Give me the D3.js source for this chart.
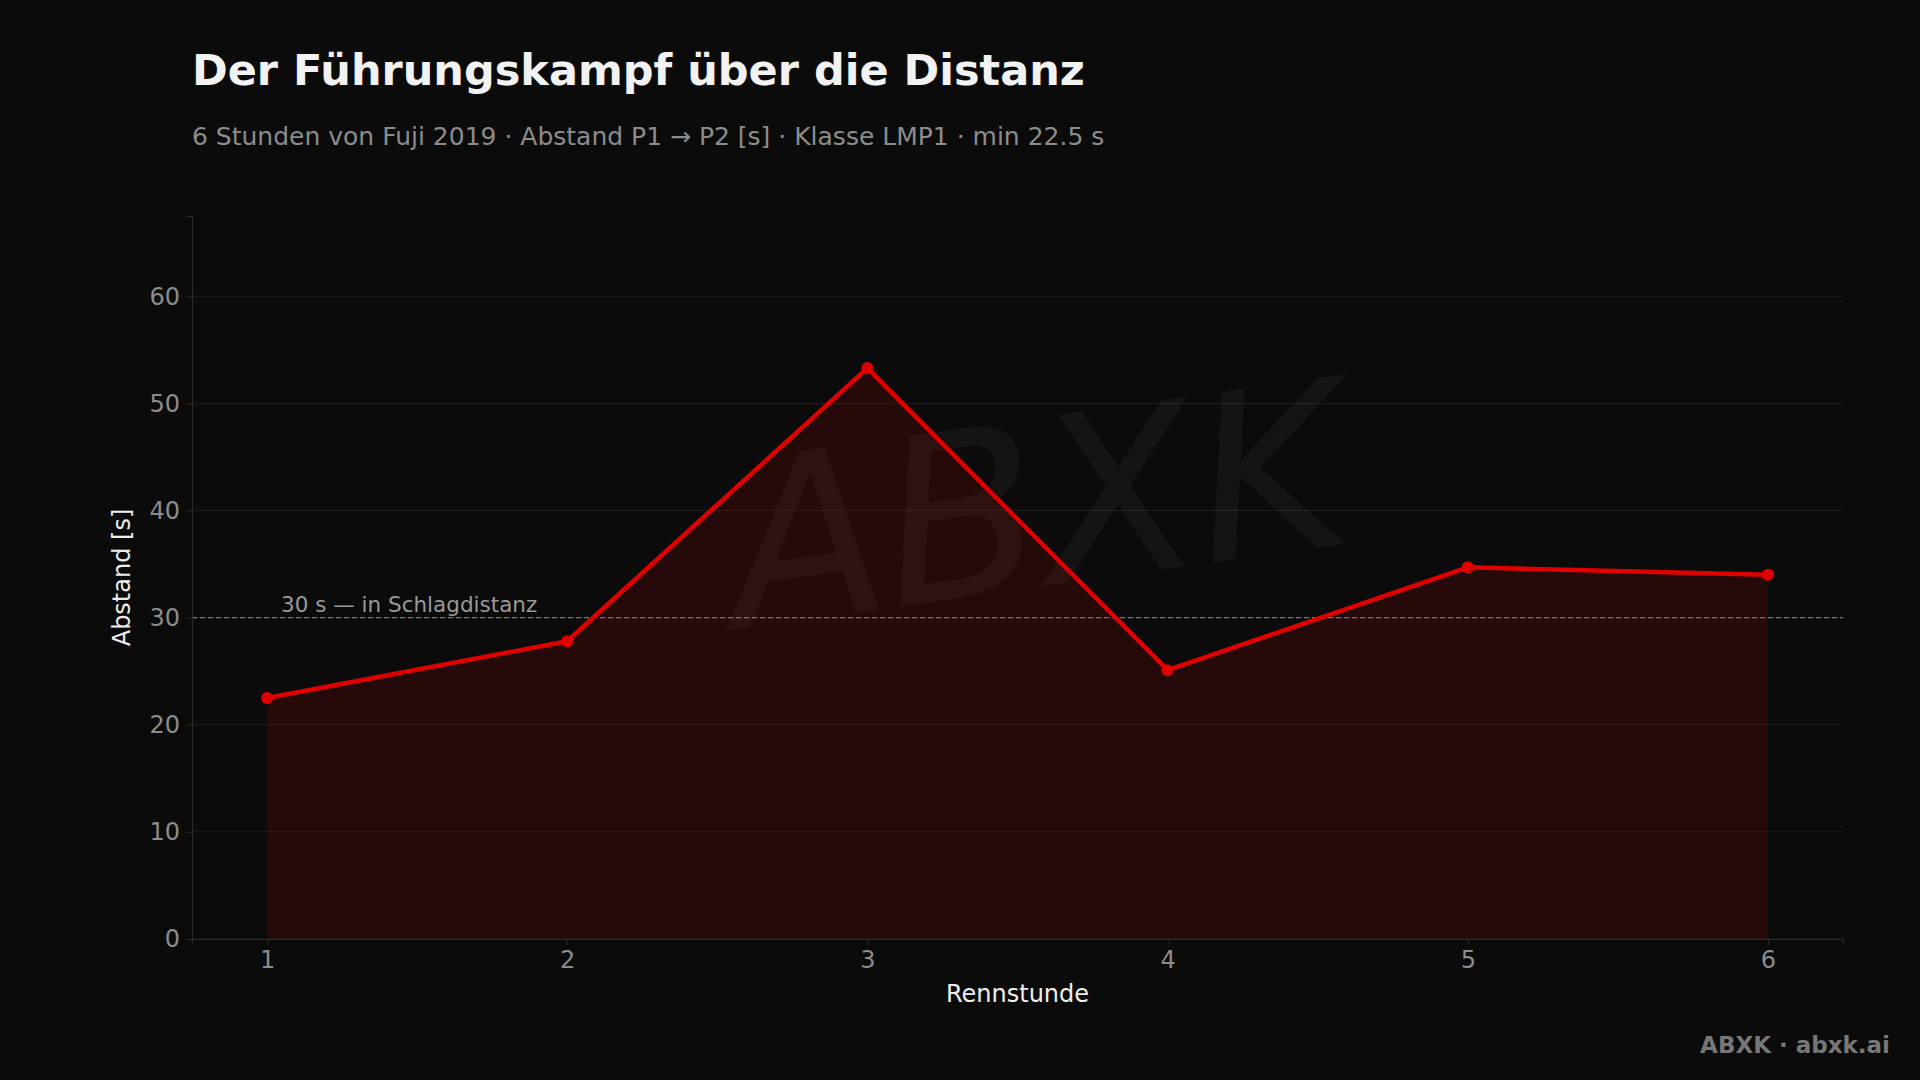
<!DOCTYPE html>
<meta charset="utf-8">
<script src="https://d3js.org/d3.v7.min.js"></script>
<style>
body { margin:0; background:#0b0b0b; }
text { font-family: "DejaVu Sans", sans-serif; }
</style>
<body>
<div id="canvas"></div>
<script>
var hours = [1, 2, 3, 4, 5, 6];
var gap = [22.5, 27.8, 53.3, 25.1, 34.7, 34.0];
var yTicks = [0, 10, 20, 30, 40, 50, 60];
var threshold = 30;

var W = 1920, H = 1080;
var margin = {top: 216, right: 77, bottom: 141, left: 192};
var width = W - margin.left - margin.right;
var height = H - margin.top - margin.bottom;

var svg = d3.select('#canvas').append('svg')
    .attr('width', W).attr('height', H)
    .style('background', '#0b0b0b');

// titel
svg.append('text').attr('x', 192).attr('y', 85)
    .attr('fill', '#f2f2f2').attr('font-size', 43).attr('font-weight', 'bold')
    .text('Der Führungskampf über die Distanz');
svg.append('text').attr('x', 192).attr('y', 145)
    .attr('fill', '#8c8c8c').attr('font-size', 25)
    .text('6 Stunden von Fuji 2019 · Abstand P1 → P2 [s] · Klasse LMP1 · min 22.5 s');

var g = svg.append('g').attr('transform', 'translate(' + margin.left + ',' + margin.top + ')');

var x = d3.scaleLinear().domain([0.75, 6.25]).range([0, width]);
var y = d3.scaleLinear().domain([0, 67.5]).range([height, 0]);

// gitter
g.selectAll('.grid').data(yTicks).enter().append('line')
    .attr('x1', 0).attr('x2', width)
    .attr('y1', function(d) { return y(d); }).attr('y2', function(d) { return y(d); })
    .attr('stroke', '#1e1e1e').attr('stroke-width', 1);

// watermark
g.append('text').attr('x', x(3.6)).attr('y', y(33))
    .attr('text-anchor', 'middle')
    .attr('font-family', '"DejaVu Serif", serif').attr('font-style', 'italic')
    .attr('font-size', 230).attr('fill', '#ffffff').attr('opacity', 0.035)
    .attr('transform', 'rotate(-8,' + x(3.6) + ',' + y(33) + ')')
    .text('ABXK');

// flaeche
var area = d3.area()
    .x(function(d, i) { return x(hours[i]); })
    .y0(y(0))
    .y1(function(d) { return y(d); });
g.append('path').attr('d', area(gap)).attr('fill', '#e00000').attr('opacity', 0.13);

// schwelle
g.append('line').attr('x1', 0).attr('x2', width)
    .attr('y1', y(threshold)).attr('y2', y(threshold))
    .attr('stroke', '#777').attr('stroke-dasharray', '5,3').attr('stroke-width', 1.2);
g.append('text').attr('x', x(1) + 14).attr('y', y(threshold) - 6)
    .attr('fill', '#999').attr('font-size', 21.5).text('30 s — in Schlagdistanz');

// linie
var line = d3.line()
    .x(function(d, i) { return x(hours[i]); })
    .y(function(d) { return y(d); });
g.append('path').attr('d', line(gap)).attr('fill', 'none')
    .attr('stroke', '#e00000').attr('stroke-width', 4.5).attr('stroke-linejoin', 'round');
g.selectAll('.dot').data(gap).enter().append('circle')
    .attr('cx', function(d, i) { return x(hours[i]); })
    .attr('cy', function(d) { return y(d); })
    .attr('r', 6).attr('fill', '#e00000');

// achsen
var xAxis = g.append('g').attr('transform', 'translate(0,' + height + ')')
    .call(d3.axisBottom(x).tickValues(hours).tickFormat(d3.format('d')).tickSize(6).tickPadding(6));
var yAxis = g.append('g')
    .call(d3.axisLeft(y).tickValues(yTicks).tickSize(6).tickPadding(6));
[xAxis, yAxis].forEach(function(a) {
    a.select('.domain').attr('stroke', '#2a2a2a');
    a.selectAll('.tick line').attr('stroke', '#2a2a2a');
    a.selectAll('.tick text').attr('fill', '#8c8c8c').attr('font-size', 24)
        .attr('font-family', '"DejaVu Sans", sans-serif');
});

g.append('text').attr('x', width / 2).attr('y', height + 63)
    .attr('text-anchor', 'middle').attr('fill', '#eee').attr('font-size', 24).text('Rennstunde');
g.append('text').attr('transform', 'translate(-62,' + (height / 2) + ') rotate(-90)')
    .attr('text-anchor', 'middle').attr('fill', '#eee').attr('font-size', 24).text('Abstand [s]');

svg.append('text').attr('x', 1890).attr('y', 1053).attr('text-anchor', 'end')
    .attr('fill', '#777').attr('font-size', 23).attr('font-weight', 'bold').text('ABXK · abxk.ai');
</script>
</body>
